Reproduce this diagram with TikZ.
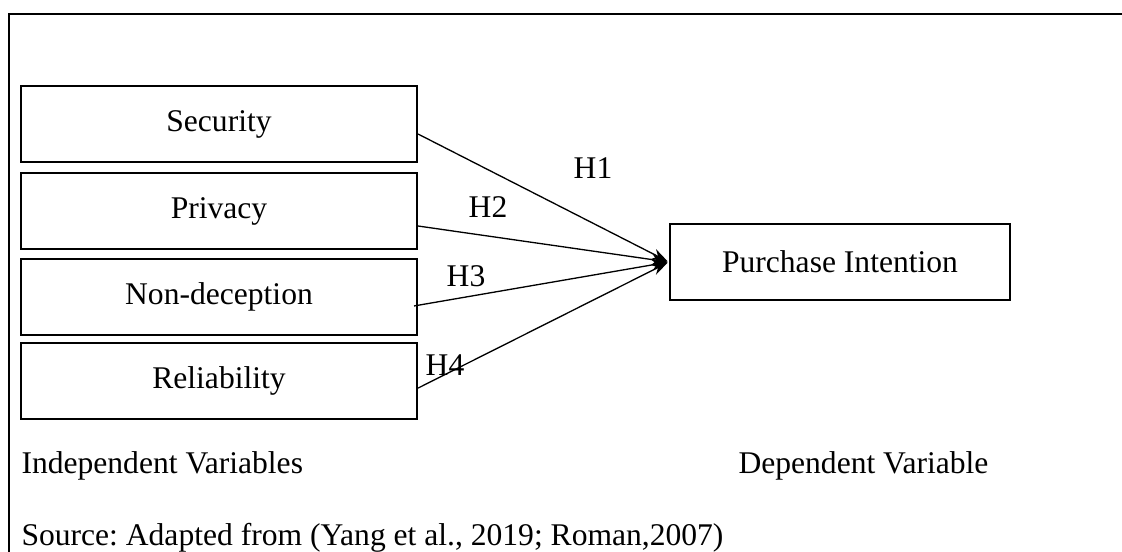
\documentclass[tikz,border=0pt]{standalone}
\usepackage{fontspec}
\setmainfont{Liberation Serif}
\usetikzlibrary{arrows.meta}
\frenchspacing
\begin{document}
\begin{tikzpicture}[x=0.38pt,y=-0.38pt,>={Stealth[length=6pt,width=4.2pt]}]
  \tikzset{
    varbox/.style={draw,line width=0.75pt,minimum width=150.5pt,minimum height=28.9pt,inner sep=0pt},
    lbl/.style={inner sep=0pt,font=\fontsize{12}{14}\selectfont},
    hyp/.style={->,line width=0.5pt,shorten >=0.6pt},
  }
  \useasboundingbox (0,0) rectangle (1122,551);
  \draw[line width=0.75pt] (9,560) -- (9,14) -- (1130,14);

  \node[varbox,lbl] (sec) at (219,124) {Security};
  \node[varbox,lbl] (pri) at (219,211) {Privacy};
  \node[varbox,lbl] (nd) at (219,297) {Non-deception};
  \node[varbox,lbl] (rel) at (219,381) {Reliability};
  \node[varbox,lbl,minimum width=129.2pt] (pi) at (840,262) {Purchase Intention};

  \draw[hyp] ([yshift=-3.8pt]sec.east) -- (pi.west);
  \draw[hyp] ([yshift=-5.7pt]pri.east) -- (pi.west);
  \draw[hyp] ([xshift=-1.5pt,yshift=-3.4pt]nd.east) -- (pi.west);
  \draw[hyp] ([yshift=-2.7pt]rel.east) -- (pi.west);

  \node[lbl] (h1) at (593,168) {H1};
  \node[lbl] (h2) at (488,207) {H2};
  \node[lbl] (h3) at (466,276) {H3};
  \node[lbl] (h4) at (445,365) {H4};

  \node[lbl,anchor=west] (iv) at (21,466) {Independent Variables};
  \node[lbl,anchor=west] (dv) at (738,466) {Dependent Variable};
  \node[lbl,anchor=west] (src) at (21,538) {Source: Adapted from (Yang et al., 2019; Roman,2007)};
\end{tikzpicture}
\end{document}
